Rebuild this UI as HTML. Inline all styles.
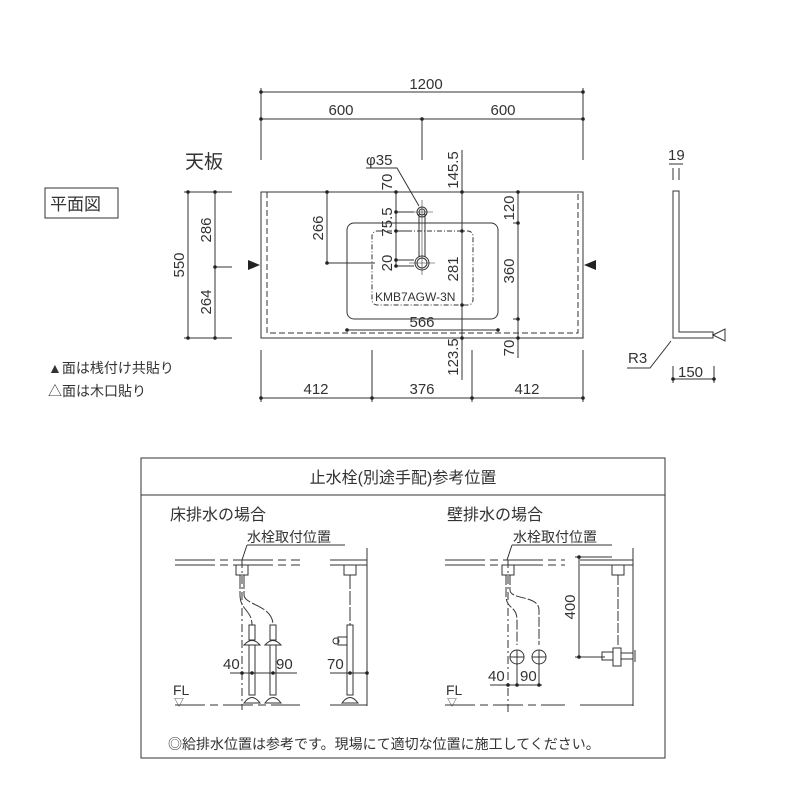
<!DOCTYPE html>
<html><head><meta charset="utf-8"><style>
html,body{margin:0;padding:0;background:#fff;}
svg{display:block;}
text{font-family:"Liberation Sans","Noto Sans CJK JP",sans-serif;fill:#333;}
</style></head><body>
<svg width="800" height="800" viewBox="0 0 800 800" xmlns="http://www.w3.org/2000/svg">
<g stroke="#333" stroke-width="1" fill="none">
<line x1="261" y1="92" x2="583" y2="92"/>
<line x1="261" y1="119" x2="583" y2="119"/>
<line x1="261" y1="88" x2="261" y2="160"/>
<line x1="583" y1="88" x2="583" y2="160"/>
<line x1="422" y1="119" x2="422" y2="160"/>
<rect x="261" y="192" width="322" height="146"/>
<path d="M267 192 V333 H578 V192" stroke-dasharray="6,3"/>
<rect x="347" y="223" width="151" height="96" rx="7"/>
<rect x="372" y="231" width="101" height="74" rx="5" stroke-dasharray="5,2,1,2"/>
<circle cx="422" cy="212" r="5"/><circle cx="422" cy="212" r="3"/>
<circle cx="422" cy="263" r="7"/><circle cx="422" cy="263" r="5"/>
<line x1="419" y1="214" x2="419" y2="257"/><line x1="425" y1="214" x2="425" y2="257"/>
<line x1="422" y1="200" x2="422" y2="275" stroke-width="0.6"/>
<line x1="411" y1="212" x2="433" y2="212" stroke-width="0.6"/>
<line x1="409" y1="263" x2="435" y2="263" stroke-width="0.6"/>
<path d="M366 168 H397 L419 206"/>
<line x1="327" y1="192" x2="327" y2="263"/><line x1="327" y1="263" x2="375" y2="263"/>
<line x1="396" y1="192" x2="396" y2="265"/>
<line x1="396" y1="231" x2="410" y2="231"/>
<line x1="396" y1="212" x2="414" y2="212"/>
<line x1="396" y1="260" x2="414" y2="260"/><line x1="396" y1="266" x2="414" y2="266"/>
<line x1="462" y1="150" x2="462" y2="380"/>
<line x1="518" y1="192" x2="518" y2="358"/>
<line x1="513" y1="223" x2="518" y2="223"/><line x1="513" y1="319" x2="518" y2="319"/>
<line x1="347" y1="330" x2="498" y2="330"/>
<line x1="188" y1="192" x2="188" y2="338"/>
<line x1="215" y1="192" x2="215" y2="338"/>
<line x1="184" y1="192" x2="232" y2="192"/><line x1="184" y1="338" x2="232" y2="338"/>
<line x1="215" y1="267" x2="232" y2="267"/>
<line x1="261" y1="398" x2="583" y2="398"/>
<line x1="261" y1="350" x2="261" y2="402"/><line x1="372" y1="350" x2="372" y2="402"/>
<line x1="472" y1="350" x2="472" y2="402"/><line x1="583" y1="350" x2="583" y2="402"/>
<path d="M673 191 H679 V332 H713 V338 H673 Z"/>
<path d="M713 335 L725 329 V341 Z"/>
<line x1="673" y1="168" x2="673" y2="180"/><line x1="679" y1="168" x2="679" y2="180"/>
<line x1="669" y1="164" x2="683" y2="164"/>
<path d="M627 368 H650 L671 341"/>
<line x1="673" y1="379" x2="714" y2="379"/>
<line x1="673" y1="366" x2="673" y2="383"/><line x1="714" y1="366" x2="714" y2="383"/>
<rect x="45" y="188" width="73" height="30"/>
<rect x="141" y="458" width="524" height="300"/>
<line x1="141" y1="495" x2="665" y2="495"/>
<path d="M175 560 H300 M175 565 H300" stroke-dasharray="40,5,8,5"/>
<path d="M330 560 H367 M330 565 H367"/>
<line x1="367" y1="548" x2="367" y2="706"/>
<line x1="247" y1="545" x2="345" y2="545"/>
<path d="M247 545 L242 560"/>
<line x1="242" y1="560" x2="242" y2="710" stroke-dasharray="8,3,2,3"/>
<rect x="236" y="565" width="12" height="10"/>
<path d="M240 575 V595 C240 610 252 610 252 625 M244 575 V595 C244 605 273 605 273 625" stroke-dasharray="14,2"/>
<rect x="249" y="625" width="6" height="15"/><rect x="270" y="625" width="6" height="15"/>
<path d="M244 645 Q252 636 260 645 Z M265 645 Q273 636 281 645 Z"/>
<rect x="249" y="645" width="6" height="50"/><rect x="270" y="645" width="6" height="50"/>
<path d="M244 703 Q252 692 260 703 Z M265 703 Q273 692 281 703 Z"/>
<line x1="230" y1="673" x2="297" y2="673"/>
<line x1="175" y1="705" x2="300" y2="705" stroke-dasharray="30,5,8,5"/>
<line x1="330" y1="705" x2="367" y2="705"/>
<rect x="344" y="565" width="12" height="10"/>
<path d="M350 575 V625" stroke-dasharray="14,2"/>
<rect x="347" y="625" width="6" height="70"/>
<rect x="338" y="637" width="9" height="8"/><circle cx="336" cy="641" r="3"/>
<path d="M342 703 Q350 692 358 703 Z"/>
<line x1="330" y1="673" x2="367" y2="673"/>
<path d="M445 560 H565 M445 565 H565" stroke-dasharray="40,5,8,5"/>
<path d="M580 560 H633 M580 565 H633"/>
<line x1="633" y1="548" x2="633" y2="706"/>
<line x1="512" y1="545" x2="612" y2="545"/>
<path d="M512 545 L507 560"/>
<line x1="508" y1="560" x2="508" y2="712" stroke-dasharray="8,3,2,3"/>
<rect x="502" y="565" width="12" height="10"/>
<path d="M506 575 V595 C506 610 517 605 517 620 V645 M510 575 V590 C510 600 539 595 539 610 V645" stroke-dasharray="10,2"/>
<circle cx="517" cy="657" r="7"/><circle cx="539" cy="657" r="7"/>
<line x1="517" y1="650" x2="517" y2="664"/><line x1="539" y1="650" x2="539" y2="664"/>
<line x1="510" y1="657" x2="524" y2="657"/><line x1="532" y1="657" x2="546" y2="657"/>
<line x1="490" y1="685" x2="542" y2="685"/>
<line x1="517" y1="664" x2="517" y2="685"/><line x1="539" y1="664" x2="539" y2="685"/>
<line x1="445" y1="705" x2="565" y2="705" stroke-dasharray="30,5,8,5"/>
<line x1="580" y1="705" x2="633" y2="705"/>
<line x1="579" y1="557" x2="579" y2="657"/>
<line x1="575" y1="557" x2="612" y2="557"/><line x1="575" y1="657" x2="605" y2="657"/>
<rect x="612" y="565" width="12" height="10"/>
<path d="M618 575 V645" stroke-dasharray="10,2"/>
<rect x="613" y="648" width="8" height="18"/>
<rect x="602" y="652" width="11" height="8"/><rect x="621" y="653" width="12" height="6"/>
<line x1="635" y1="650" x2="635" y2="662"/>
</g>
<g fill="#222">
<path d="M248 260 L260 265 L248 270 Z"/>
<path d="M596 260 L584 265 L596 270 Z"/>
<circle cx="261" cy="92" r="1.8"/><circle cx="583" cy="92" r="1.8"/>
<circle cx="261" cy="119" r="1.8"/><circle cx="583" cy="119" r="1.8"/><circle cx="422" cy="119" r="1.8"/>
<circle cx="188" cy="192" r="1.8"/><circle cx="188" cy="338" r="1.8"/>
<circle cx="215" cy="192" r="1.8"/><circle cx="215" cy="338" r="1.8"/><circle cx="215" cy="267" r="1.8"/>
<circle cx="261" cy="398" r="1.8"/><circle cx="372" cy="398" r="1.8"/><circle cx="472" cy="398" r="1.8"/><circle cx="583" cy="398" r="1.8"/>
<circle cx="462" cy="192" r="1.8"/><circle cx="462" cy="231" r="1.8"/><circle cx="462" cy="305" r="1.8"/><circle cx="462" cy="338" r="1.8"/>
<circle cx="518" cy="192" r="1.8"/><circle cx="518" cy="223" r="1.8"/><circle cx="518" cy="319" r="1.8"/><circle cx="518" cy="338" r="1.8"/>
<circle cx="396" cy="192" r="1.8"/><circle cx="396" cy="212" r="1.8"/><circle cx="396" cy="231" r="1.8"/><circle cx="396" cy="260" r="1.8"/><circle cx="396" cy="266" r="1.8"/>
<circle cx="327" cy="192" r="1.8"/><circle cx="327" cy="263" r="1.8"/>
<circle cx="347" cy="330" r="1.8"/><circle cx="498" cy="330" r="1.8"/>
<circle cx="673" cy="379" r="1.8"/><circle cx="714" cy="379" r="1.8"/>
<circle cx="242" cy="673" r="1.8"/><circle cx="252" cy="673" r="1.8"/><circle cx="273" cy="673" r="1.8"/>
<circle cx="350" cy="673" r="1.8"/><circle cx="367" cy="673" r="1.8"/>
<circle cx="508" cy="685" r="1.8"/><circle cx="517" cy="685" r="1.8"/><circle cx="539" cy="685" r="1.8"/>
<circle cx="579" cy="557" r="1.8"/><circle cx="579" cy="657" r="1.8"/>
</g>
<g font-size="15">
<text x="426" y="89" text-anchor="middle">1200</text>
<text x="341" y="115" text-anchor="middle">600</text>
<text x="503" y="115" text-anchor="middle">600</text>
<text x="316" y="394" text-anchor="middle">412</text>
<text x="422" y="394" text-anchor="middle">376</text>
<text x="527" y="394" text-anchor="middle">412</text>
<text x="422" y="327" text-anchor="middle">566</text>
<text x="185" y="168" font-size="19">天板</text>
<text x="50" y="210" font-size="17">平面図</text>
<text x="366" y="165">φ35</text>
<text x="48" y="373" font-size="14">▲面は桟付け共貼り</text>
<text x="48" y="396" font-size="14">△面は木口貼り</text>
<text x="375" y="301" font-size="12">KMB7AGW-3N</text>
<text x="668" y="160">19</text>
<text x="628" y="363">R3</text>
<text x="678" y="377">150</text>
</g>
<g font-size="15">
<text transform="translate(184,265) rotate(-90)" text-anchor="middle">550</text>
<text transform="translate(211,230) rotate(-90)" text-anchor="middle">286</text>
<text transform="translate(211,302) rotate(-90)" text-anchor="middle">264</text>
<text transform="translate(323,228) rotate(-90)" text-anchor="middle">266</text>
<text transform="translate(392,182) rotate(-90)" text-anchor="middle">70</text>
<text transform="translate(392,222) rotate(-90)" text-anchor="middle">75.5</text>
<text transform="translate(392,263) rotate(-90)" text-anchor="middle">20</text>
<text transform="translate(458,170) rotate(-90)" text-anchor="middle">145.5</text>
<text transform="translate(458,269) rotate(-90)" text-anchor="middle">281</text>
<text transform="translate(458,357) rotate(-90)" text-anchor="middle">123.5</text>
<text transform="translate(514,208) rotate(-90)" text-anchor="middle">120</text>
<text transform="translate(514,271) rotate(-90)" text-anchor="middle">360</text>
<text transform="translate(514,348) rotate(-90)" text-anchor="middle">70</text>
<text transform="translate(575,607) rotate(-90)" text-anchor="middle">400</text>
</g>
<g font-size="15">
<text x="403" y="483" text-anchor="middle" font-size="16">止水栓(別途手配)参考位置</text>
<text x="170" y="520" font-size="16">床排水の場合</text>
<text x="447" y="520" font-size="16">壁排水の場合</text>
<text x="247" y="542" font-size="14">水栓取付位置</text>
<text x="513" y="542" font-size="14">水栓取付位置</text>
<text x="223" y="669">40</text>
<text x="276" y="669">90</text>
<text x="327" y="669">70</text>
<text x="488" y="681">40</text>
<text x="520" y="681">90</text>
<text x="173" y="695" font-size="14">FL</text>
<text x="174" y="706" font-size="10">▽</text>
<text x="446" y="695" font-size="14">FL</text>
<text x="447" y="706" font-size="10">▽</text>
<text x="168" y="749" font-size="14">◎給排水位置は参考です。現場にて適切な位置に施工してください。</text>
</g>
</svg>
</body></html>
